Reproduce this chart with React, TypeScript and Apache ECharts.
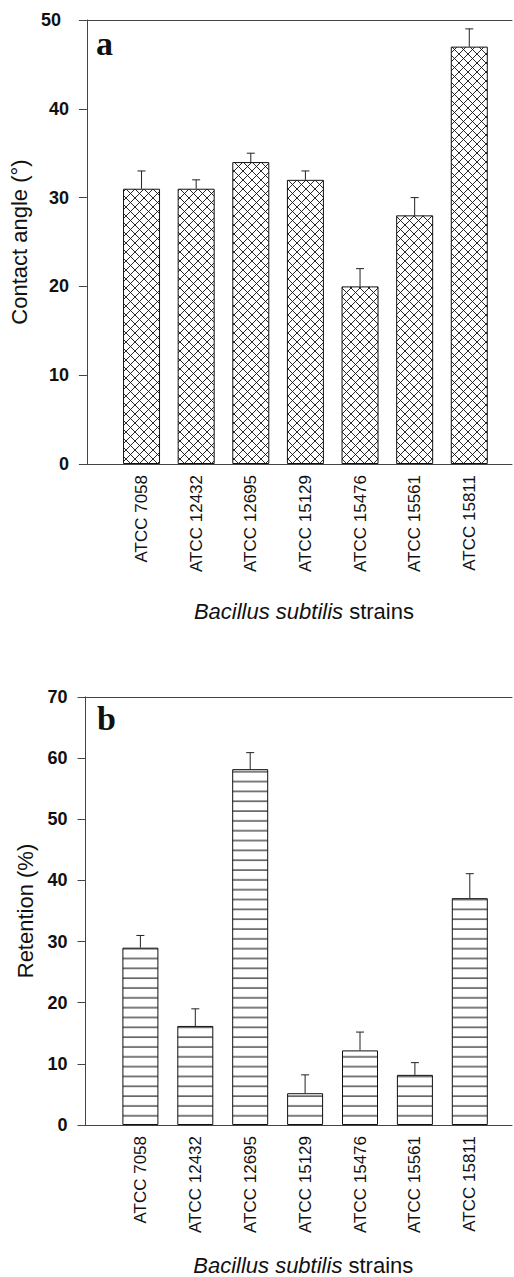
import React, { useEffect, useRef } from "react";
import * as echarts from "echarts";

const strains = ["ATCC 7058", "ATCC 12432", "ATCC 12695", "ATCC 15129", "ATCC 15476", "ATCC 15561", "ATCC 15811"];
const contactAngle = [31, 31, 34, 32, 20, 28, 47];
const contactAngleErr = [2, 1, 1, 1, 2, 2, 2];
const retention = [29, 16.2, 58.2, 5.2, 12.2, 8.2, 37.1];
const retentionErr = [2, 2.8, 2.7, 3, 3, 2, 4];
const contactTicks = [0, 10, 20, 30, 40, 50];
const retentionTicks = [0, 10, 20, 30, 40, 50, 60, 70];

const FONT = "'Liberation Sans', Arial, Helvetica, sans-serif";
const AXIS_COLOR = "#444";

function svgUrl(svg: string) {
  return "data:image/svg+xml;charset=utf-8," + encodeURIComponent(svg);
}

const crossHatch = {
  image: svgUrl(
    '<svg xmlns="http://www.w3.org/2000/svg" width="9" height="9"><rect width="9" height="9" fill="#fff"/><path d="M-1 -1L10 10M10 -1L-1 10" stroke="#111" stroke-width="0.9" fill="none"/></svg>'
  ),
  repeat: "repeat",
  imageWidth: 9,
  imageHeight: 9,
};

const hLines = {
  image: svgUrl(
    '<svg xmlns="http://www.w3.org/2000/svg" width="10" height="9.83"><rect width="10" height="9.83" fill="#fff"/><path d="M-1 5H11" stroke="#111" stroke-width="1.1" fill="none"/></svg>'
  ),
  repeat: "repeat",
  imageWidth: 10,
  imageHeight: 9.83,
  x: 0,
  y: 3.1,
};

function errRender(params: any, api: any) {
  const x = api.value(0);
  const y = api.value(1);
  const e = api.value(2);
  const p0 = api.coord([x, y]);
  const p1 = api.coord([x, y + e]);
  const style = { stroke: "#222", lineWidth: 1 };
  return {
    type: "group",
    children: [
      { type: "line", shape: { x1: p0[0], y1: p0[1], x2: p1[0], y2: p1[1] }, style },
      { type: "line", shape: { x1: p1[0] - 4, y1: p1[1], x2: p1[0] + 4, y2: p1[1] }, style },
    ],
  };
}

function catLabel(v: number) {
  if (Math.abs(v - Math.round(v)) < 1e-6 && v >= 1 && v <= strains.length) return strains[Math.round(v) - 1];
  return "";
}

function makeX(gridIndex: number, max: number, nameGap: number) {
  return [
    {
      type: "value",
      gridIndex,
      min: 0,
      max,
      interval: 1,
      position: "bottom",
      axisLine: { show: true, lineStyle: { color: AXIS_COLOR, width: 1 } },
      axisTick: { show: false },
      splitLine: { show: false },
      axisLabel: {
        rotate: 90,
        margin: 11,
        fontSize: 17,
        color: "#111",
        fontFamily: FONT,
        formatter: catLabel,
      },
      name: "{i|Bacillus subtilis} strains",
      nameLocation: "middle",
      nameGap,
      nameTextStyle: {
        fontSize: 22,
        color: "#111",
        fontFamily: FONT,
        padding: [0, 0, 0, 9],
        rich: { i: { fontStyle: "italic", fontSize: 22, color: "#111", fontFamily: FONT } },
      },
    },
    {
      type: "value",
      gridIndex,
      min: 0,
      max,
      interval: 1,
      position: "top",
      axisLine: { show: true, lineStyle: { color: AXIS_COLOR, width: 1 } },
      axisTick: { show: false },
      axisLabel: { show: false },
      splitLine: { show: false },
    },
  ];
}

function makeY(gridIndex: number, ticks: number[], name: string, shift50: boolean) {
  return {
    type: "value",
    gridIndex,
    min: ticks[0],
    max: ticks[ticks.length - 1],
    interval: ticks[1] - ticks[0],
    axisLine: { show: true, lineStyle: { color: AXIS_COLOR, width: 1 } },
    axisTick: { show: true, inside: false, length: 8, lineStyle: { color: AXIS_COLOR, width: 1 } },
    splitLine: { show: false },
    axisLabel: {
      margin: 18,
      fontSize: 18,
      fontWeight: "bold",
      color: "#111",
      fontFamily: FONT,
      formatter: (v: number) => (shift50 && v === 50 ? "{s|50}" : "{n|" + v + "}"),
      rich: {
        s: { padding: [0, 8, 0, 0], fontSize: 18, fontWeight: "bold", color: "#111", fontFamily: FONT },
        n: { fontSize: 18, fontWeight: "bold", color: "#111", fontFamily: FONT },
      },
    },
    name,
    nameLocation: "middle",
    nameGap: 41,
    nameTextStyle: { fontSize: 22, color: "#111", fontFamily: FONT },
  };
}

export default function App() {
  const ref = useRef<HTMLDivElement>(null);
  useEffect(() => {
    if (!ref.current) return;
    const chart = echarts.init(ref.current, null, { renderer: "svg" });
    const x0 = makeX(0, 428 / 55, 136);
    const x1 = makeX(1, 426.5 / 54.9, 129);
    chart.setOption({
      animation: false,
      backgroundColor: "#fff",
      grid: [
        { left: 84, top: 20, width: 428, height: 444 },
        { left: 85.5, top: 697, width: 426.5, height: 437.5 },
      ],
      xAxis: [...x0, ...x1],
      yAxis: [
        makeY(0, contactTicks, "Contact angle (°)", true),
        makeY(1, retentionTicks, "Retention (%)", false),
      ],
      graphic: [
        { type: "text", left: 96, top: 26, style: { text: "a", font: "bold 34px 'Liberation Serif', 'Times New Roman', serif", fill: "#111" } },
        { type: "text", left: 97, top: 701, style: { text: "b", font: "bold 34px 'Liberation Serif', 'Times New Roman', serif", fill: "#111" } },
      ],
      series: [
        {
          type: "bar",
          xAxisIndex: 0,
          yAxisIndex: 0,
          barWidth: 37,
          data: contactAngle.map((v, i) => [i + 1, v]),
          itemStyle: { color: crossHatch, borderColor: "#111", borderWidth: 1 },
        },
        {
          type: "custom",
          xAxisIndex: 0,
          yAxisIndex: 0,
          renderItem: errRender,
          encode: { x: 0, y: 1 },
          data: contactAngle.map((v, i) => [i + 1, v, contactAngleErr[i]]),
          z: 5,
        },
        {
          type: "bar",
          xAxisIndex: 2,
          yAxisIndex: 1,
          barWidth: 36,
          data: retention.map((v, i) => [i + 1, v]),
          itemStyle: { color: hLines, borderColor: "#111", borderWidth: 1 },
        },
        {
          type: "custom",
          xAxisIndex: 2,
          yAxisIndex: 1,
          renderItem: errRender,
          encode: { x: 0, y: 1 },
          data: retention.map((v, i) => [i + 1, v, retentionErr[i]]),
          z: 5,
        },
      ],
    });
    return () => chart.dispose();
  }, []);
  return (
    <div
      ref={ref}
      style={{ position: "absolute", left: 0, top: 0, width: 514, height: 1277, background: "#fff" }}
    />
  );
}
